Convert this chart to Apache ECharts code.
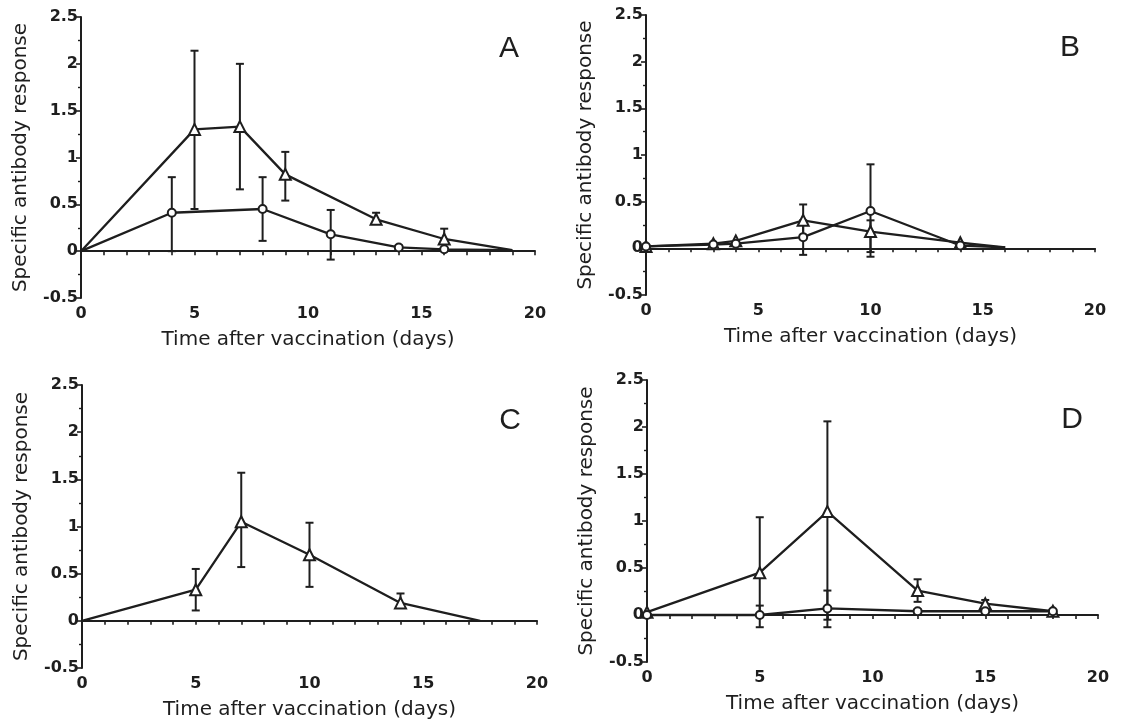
<!DOCTYPE html>
<html>
<head>
<meta charset="utf-8">
<script src="https://cdn.jsdelivr.net/npm/echarts@6/dist/echarts.min.js"></script>
<style>
  html, body { margin: 0; padding: 0; background: #fff; }
  #chart { width: 1121px; height: 721px; }
</style>
</head>
<body>
<div id="chart"></div>
<script>
// panel A
var aTriDays  = [0, 5, 7, 9, 13, 16, 19];
var aTriVals  = [0, 1.30, 1.33, 0.82, 0.34, 0.13, 0.01];
var aTriLow   = [null, 0.45, 0.66, 0.54, 0.30, 0.09, null];
var aTriHigh  = [null, 2.14, 2.00, 1.06, 0.41, 0.24, null];
var aTriMarks = [0, 1, 1, 1, 1, 1, 0];
var aCirDays  = [0, 4, 8, 11, 14, 16, 19];
var aCirVals  = [0, 0.41, 0.45, 0.18, 0.04, 0.02, 0.01];
var aCirLow   = [null, 0.00, 0.11, -0.09, 0.02, null, null];
var aCirHigh  = [null, 0.79, 0.79, 0.44, 0.06, null, null];
var aCirMarks = [0, 1, 1, 1, 1, 1, 0];

// panel B
var bTriDays  = [0, 3, 4, 7, 10, 14, 16];
var bTriVals  = [0.02, 0.05, 0.08, 0.30, 0.18, 0.06, 0.01];
var bTriLow   = [null, null, null, 0.13, -0.09, null, null];
var bTriHigh  = [null, null, null, 0.47, 0.30, null, null];
var bTriMarks = [1, 1, 1, 1, 1, 1, 0];
var bCirDays  = [0, 3, 4, 7, 10, 14, 16];
var bCirVals  = [0.02, 0.04, 0.05, 0.12, 0.40, 0.03, 0.01];
var bCirLow   = [null, null, null, -0.07, -0.04, null, null];
var bCirHigh  = [null, null, null, 0.30, 0.90, null, null];
var bCirMarks = [1, 1, 1, 1, 1, 1, 0];

// panel C
var cTriDays  = [0, 5, 7, 10, 14, 17.5];
var cTriVals  = [0, 0.33, 1.05, 0.70, 0.19, 0];
var cTriLow   = [null, 0.11, 0.57, 0.36, 0.15, null];
var cTriHigh  = [null, 0.55, 1.57, 1.04, 0.29, null];
var cTriMarks = [0, 1, 1, 1, 1, 0];

// panel D
var dTriDays  = [0, 5, 8, 12, 15, 18];
var dTriVals  = [0.03, 0.45, 1.10, 0.26, 0.12, 0.04];
var dTriLow   = [null, 0.00, -0.13, 0.14, 0.08, null];
var dTriHigh  = [null, 1.04, 2.06, 0.38, 0.16, null];
var dTriMarks = [1, 1, 1, 1, 1, 1];
var dCirDays  = [0, 5, 8, 12, 15, 18];
var dCirVals  = [0, 0, 0.07, 0.04, 0.04, 0.04];
var dCirLow   = [null, -0.13, -0.05, 0.02, null, null];
var dCirHigh  = [null, 0.10, 0.26, 0.06, null, null];
var dCirMarks = [1, 1, 1, 1, 1, 1];

var yTitle = 'Specific antibody response';
var xTitle = 'Time after vaccination (days)';

var ink = '#1e1e1e';
var font = 'DejaVu Sans';

var panels = [
  { label: 'A', lx: 509, ly: 49, grid: { left: 81, top: 17, width: 454, height: 281 },
    lines: [
      { days: aTriDays, vals: aTriVals, low: aTriLow, high: aTriHigh, marks: aTriMarks, symbol: 'triangle' },
      { days: aCirDays, vals: aCirVals, low: aCirLow, high: aCirHigh, marks: aCirMarks, symbol: 'circle' }
    ] },
  { label: 'B', lx: 1070, ly: 48, grid: { left: 646, top: 15, width: 449, height: 280 },
    lines: [
      { days: bTriDays, vals: bTriVals, low: bTriLow, high: bTriHigh, marks: bTriMarks, symbol: 'triangle' },
      { days: bCirDays, vals: bCirVals, low: bCirLow, high: bCirHigh, marks: bCirMarks, symbol: 'circle' }
    ] },
  { label: 'C', lx: 510, ly: 421, grid: { left: 82, top: 385, width: 455, height: 283 },
    lines: [
      { days: cTriDays, vals: cTriVals, low: cTriLow, high: cTriHigh, marks: cTriMarks, symbol: 'triangle' }
    ] },
  { label: 'D', lx: 1072, ly: 420, grid: { left: 647, top: 380, width: 451, height: 282 },
    lines: [
      { days: dTriDays, vals: dTriVals, low: dTriLow, high: dTriHigh, marks: dTriMarks, symbol: 'triangle' },
      { days: dCirDays, vals: dCirVals, low: dCirLow, high: dCirHigh, marks: dCirMarks, symbol: 'circle' }
    ] }
];

function errorBar(params, api) {
  var x = api.value(0);
  var lo = api.coord([x, api.value(1)]);
  var hi = api.coord([x, api.value(2)]);
  var w = 4;
  var style = { stroke: ink, lineWidth: 2 };
  return {
    type: 'group',
    children: [
      { type: 'line', shape: { x1: lo[0], y1: lo[1], x2: hi[0], y2: hi[1] }, style: style },
      { type: 'line', shape: { x1: lo[0] - w, y1: lo[1], x2: lo[0] + w, y2: lo[1] }, style: style },
      { type: 'line', shape: { x1: hi[0] - w, y1: hi[1], x2: hi[0] + w, y2: hi[1] }, style: style }
    ]
  };
}

var grids = [], xAxes = [], yAxes = [], series = [], graphics = [];

panels.forEach(function (p, i) {
  grids.push(p.grid);

  // labels and title at the bottom
  xAxes.push({
    gridIndex: i, type: 'value', min: 0, max: 20, interval: 5, position: 'bottom',
    axisLine: { show: false, onZero: false },
    axisTick: { show: false },
    splitLine: { show: false },
    axisLabel: { color: ink, fontSize: 16, fontWeight: 'bold', fontFamily: font, margin: 8 },
    name: xTitle, nameLocation: 'middle', nameGap: 32,
    nameTextStyle: { color: ink, fontSize: 20, fontFamily: font }
  });
  // the axis line itself sits on y = 0
  xAxes.push({
    gridIndex: i, type: 'value', min: 0, max: 20, interval: 1, position: 'bottom',
    axisLine: { show: true, onZero: true, lineStyle: { color: ink, width: 2 } },
    axisTick: { show: true, length: 4, lineStyle: { color: ink, width: 1.6 } },
    axisLabel: { show: false },
    splitLine: { show: false }
  });

  yAxes.push({
    gridIndex: i, type: 'value', min: -0.5, max: 2.5, interval: 0.5,
    axisLine: { show: true, onZero: false, lineStyle: { color: ink, width: 2 } },
    axisTick: { show: true, length: 5, lineStyle: { color: ink, width: 1.6 } },
    minorTick: { show: true, splitNumber: 2, length: 3, lineStyle: { color: ink, width: 1.4 } },
    splitLine: { show: false },
    axisLabel: { color: ink, fontSize: 16, fontWeight: 'bold', fontFamily: font, margin: 3 },
    name: yTitle, nameLocation: 'middle', nameGap: 50,
    nameTextStyle: { color: ink, fontSize: 20, fontFamily: font }
  });

  p.lines.forEach(function (s) {
    series.push({
      type: 'custom',
      xAxisIndex: i * 2 + 1, yAxisIndex: i,
      renderItem: errorBar,
      encode: { x: 0, y: [1, 2] },
      data: s.days.map(function (d, k) { return [d, s.low[k], s.high[k]]; })
                  .filter(function (r) { return r[1] !== null; }),
      z: 2, silent: true
    });
    series.push({
      type: 'line',
      xAxisIndex: i * 2 + 1, yAxisIndex: i,
      data: s.days.map(function (d, k) {
        return { value: [d, s.vals[k]], symbol: s.marks[k] ? s.symbol : 'none' };
      }),
      symbolSize: s.symbol === 'triangle' ? 11 : 8,
      lineStyle: { color: ink, width: 2.3 },
      itemStyle: { color: '#fff', borderColor: ink, borderWidth: 2 },
      z: 3, silent: true, animation: false
    });
  });

  graphics.push({
    type: 'text', x: p.lx, y: p.ly,
    style: { text: p.label, font: '30px "Liberation Sans"', fill: ink, align: 'center', verticalAlign: 'middle' }
  });
});

var chart = echarts.init(document.getElementById('chart'));
chart.setOption({
  backgroundColor: '#fff',
  animation: false,
  grid: grids,
  xAxis: xAxes,
  yAxis: yAxes,
  series: series,
  graphic: graphics
});
</script>
</body>
</html>
